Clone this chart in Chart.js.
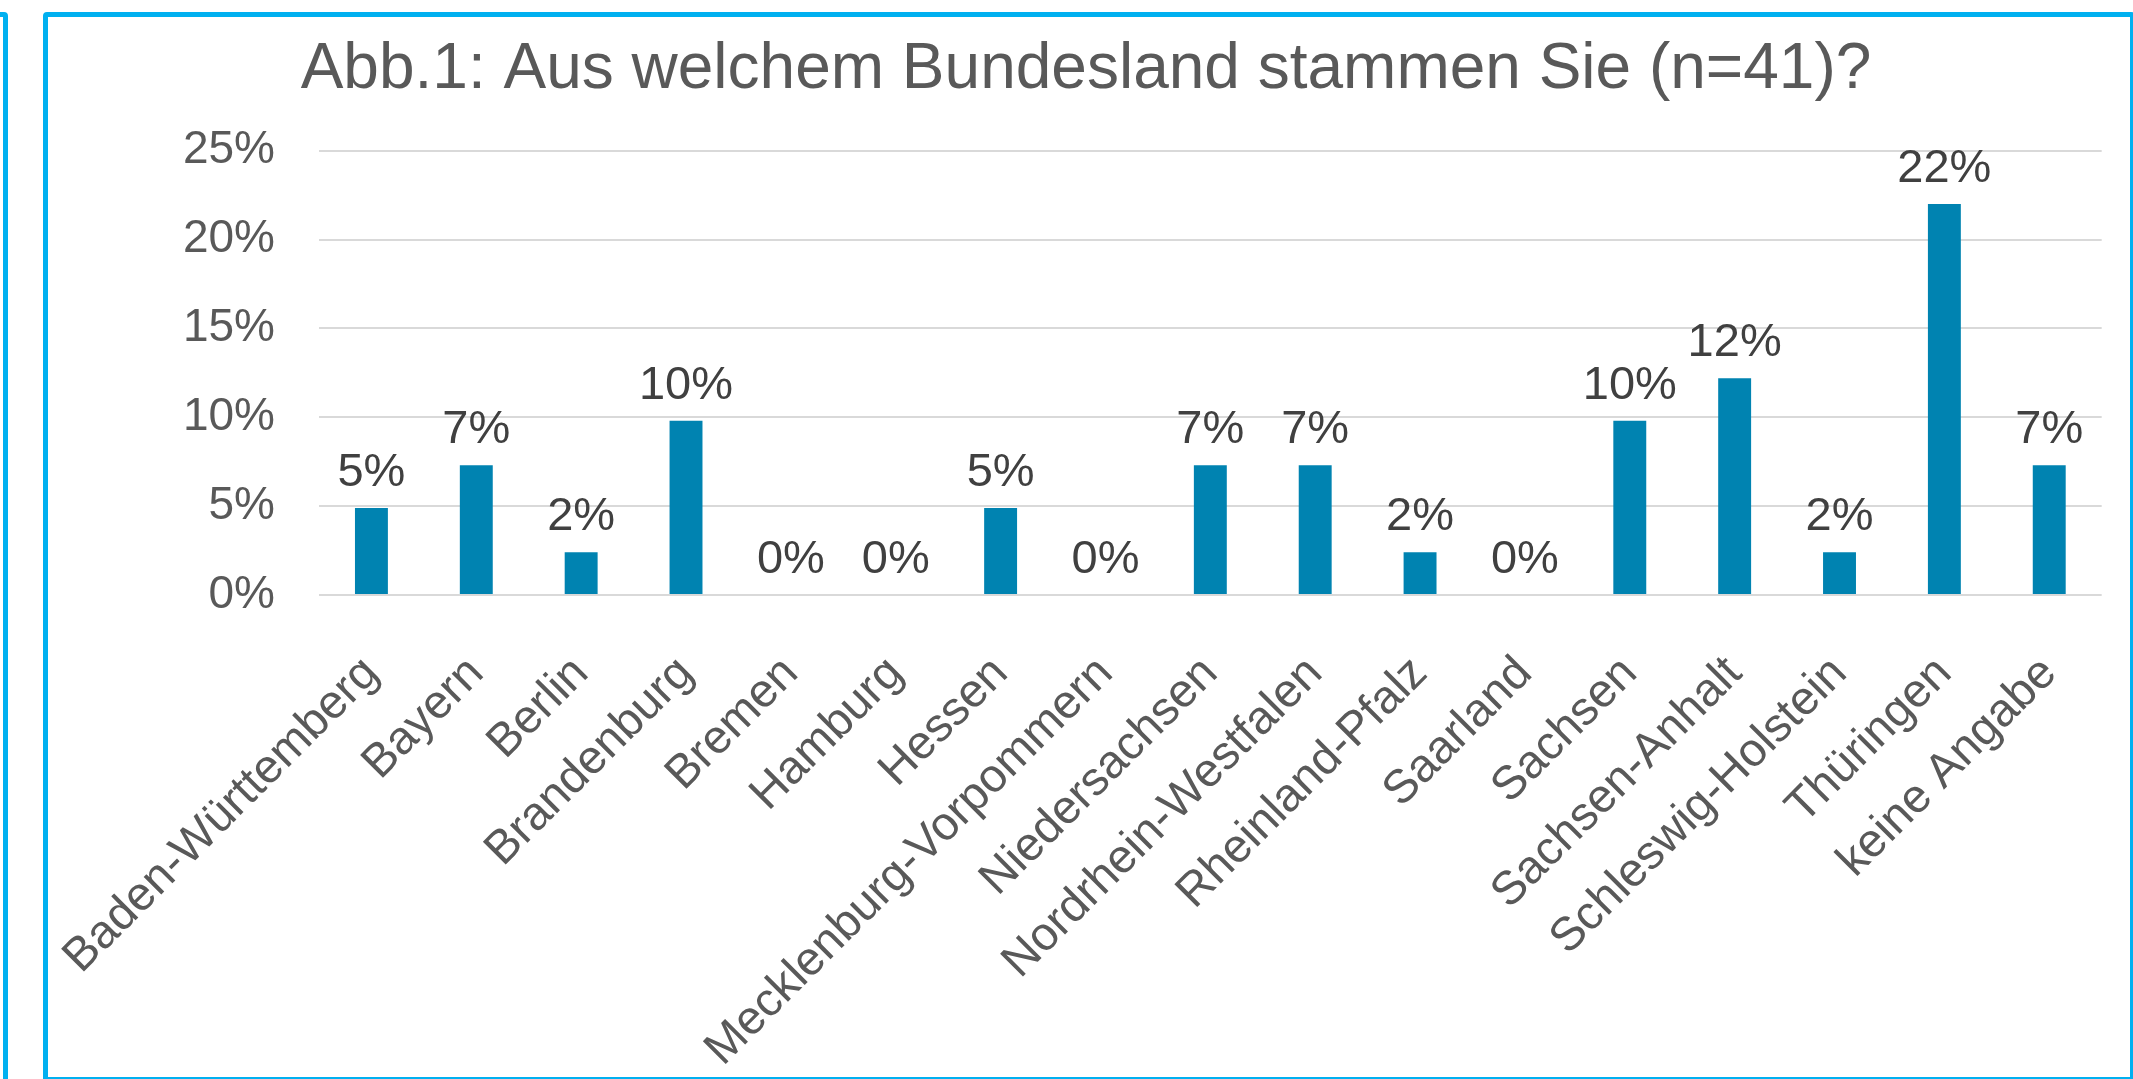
<!DOCTYPE html>
<html lang="de">
<head>
  <meta charset="UTF-8" />
  <title>Abb.1: Aus welchem Bundesland stammen Sie (n=41)?</title>
  <script src="https://cdn.jsdelivr.net/npm/chart.js"></script>
  <style>
    html, body { margin: 0; padding: 0; background: #fff; }
    body { width: 2133px; height: 1079px; position: relative; overflow: hidden; }
    .rahmen {
      position: absolute;
      box-sizing: border-box;
      border: 5px solid #00B0F0;
      border-radius: 4px;
    }
    #links { left: -100px; top: 12px; width: 108px; height: 1072px; }
    #haupt { left: 43px; top: 12px; width: 2092px; height: 1070px; }
    #diagramm { position: absolute; left: 0; top: 0; }
  </style>
</head>
<body>
  <div class="rahmen" id="links"></div>
  <div class="rahmen" id="haupt"></div>
  <canvas id="diagramm" width="2133" height="1079"></canvas>

  <script>
    const titel = 'Abb.1: Aus welchem Bundesland stammen Sie (n=41)?';

    const bundeslaender = [
      'Baden-Württemberg', 'Bayern', 'Berlin', 'Brandenburg', 'Bremen', 'Hamburg',
      'Hessen', 'Mecklenburg-Vorpommern', 'Niedersachsen', 'Nordrhein-Westfalen',
      'Rheinland-Pfalz', 'Saarland', 'Sachsen', 'Sachsen-Anhalt', 'Schleswig-Holstein',
      'Thüringen', 'keine Angabe'
    ];

    // Anteile in Prozent
    const anteile = [4.9, 7.3, 2.4, 9.8, 0, 0, 4.9, 0, 7.3, 7.3, 2.4, 0, 9.8, 12.2, 2.4, 22.0, 7.3];

    const yTicks = [0, 5, 10, 15, 20, 25];

    const schrift = '"Liberation Sans", Arial, sans-serif';
    const grau = '#595959';

    // Werte über den Balken
    const wertBeschriftung = {
      id: 'wertBeschriftung',
      afterDatasetsDraw(chart) {
        const ctx = chart.ctx;
        const meta = chart.getDatasetMeta(0);
        ctx.save();
        ctx.font = '47px ' + schrift;
        ctx.fillStyle = '#404040';
        ctx.textAlign = 'center';
        ctx.textBaseline = 'alphabetic';
        meta.data.forEach((bar, i) => {
          ctx.fillText(Math.round(anteile[i]) + '%', bar.x, bar.y - 22);
        });
        ctx.restore();
      }
    };

    const ctx = document.getElementById('diagramm').getContext('2d');

    new Chart(ctx, {
      type: 'bar',
      data: {
        labels: bundeslaender,
        datasets: [{
          data: anteile,
          backgroundColor: '#0083B1',
          barPercentage: 0.314,
          categoryPercentage: 1
        }]
      },
      options: {
        responsive: false,
        animation: false,
        layout: { padding: { left: 69, right: 30, top: 0, bottom: 0 } },
        plugins: {
          legend: { display: false },
          tooltip: { enabled: false },
          title: {
            display: true,
            text: titel,
            color: grau,
            font: { family: schrift, size: 64, weight: 'normal' },
            padding: { top: 32, bottom: 42 }
          }
        },
        scales: {
          x: {
            grid: { display: false },
            border: { display: false },
            ticks: {
              color: grau,
              font: { family: schrift, size: 47 },
              minRotation: 45,
              maxRotation: 45,
              autoSkip: false,
              padding: 43
            },
            afterFit: (s) => { s.height = 484; }
          },
          y: {
            min: 0,
            max: 25,
            afterBuildTicks: (s) => { s.ticks = yTicks.map(v => ({ value: v })); },
            grid: { color: '#D9D9D9', lineWidth: 2, drawTicks: false },
            border: { display: false },
            ticks: {
              color: grau,
              font: { family: schrift, size: 46 },
              padding: 44,
              callback: (v) => v + '%'
            },
            afterFit: (s) => { s.width = 250; }
          }
        }
      },
      plugins: [wertBeschriftung]
    });
  </script>
</body>
</html>
